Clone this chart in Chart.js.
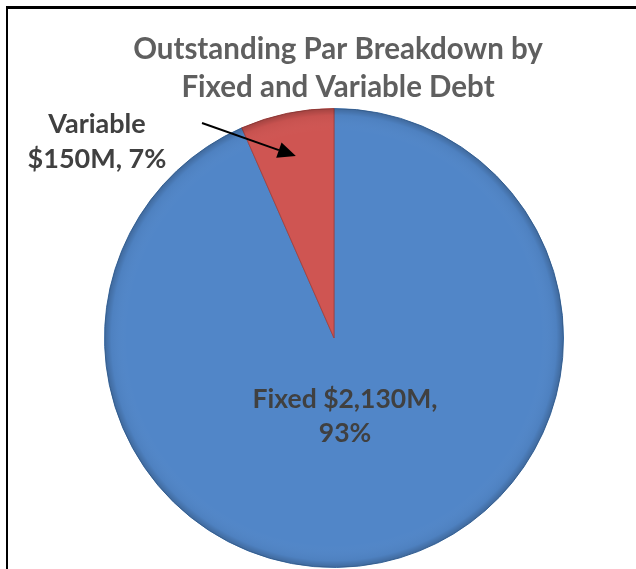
<!DOCTYPE html>
<html>
<head>
<meta charset="utf-8">
<script src="https://cdn.jsdelivr.net/npm/chart.js@4.4.1/dist/chart.umd.min.js"></script>
<style>
  html, body { margin: 0; padding: 0; background: #ffffff; }
  #wrap { position: relative; width: 636px; height: 569px; overflow: hidden; }
  canvas { display: block; }
</style>
</head>
<body>
<div id="wrap"><canvas id="c" width="636" height="569"></canvas></div>
<script>
const categories = ['Fixed', 'Variable'];
const values = [2130, 150];            // $ millions
const percents = [93, 7];
const titleLines = ['Outstanding Par Breakdown by', 'Fixed and Variable Debt'];
const colors = ['#5186C8', '#CF5552'];
const borders = ['#3E6FA8', '#A84340'];

const FONT = '"Lato", "Open Sans", sans-serif';

function fmtM(v) { return '$' + v.toLocaleString('en-US') + 'M'; }

const decor = {
  id: 'decor',
  beforeDraw(chart) {
    const ctx = chart.ctx;
    ctx.save();
    ctx.fillStyle = '#ffffff';
    ctx.fillRect(0, 0, chart.width, chart.height);
    ctx.fillStyle = '#000000';
    ctx.fillRect(6, 6, chart.width - 6, 3);
    ctx.fillRect(6, 6, 2, chart.height - 6);
    ctx.restore();
  },
  afterDatasetsDraw(chart) {
    const ctx = chart.ctx;
    const meta = chart.getDatasetMeta(0);
    const arcs = meta.data;
    const cx = arcs[0].x, cy = arcs[0].y, r = arcs[0].outerRadius;
    ctx.save();
    // bevel shade near each slice's rim
    arcs.forEach((a) => {
      ctx.save();
      ctx.beginPath();
      ctx.moveTo(cx, cy);
      ctx.arc(cx, cy, r, a.startAngle, a.endAngle);
      ctx.closePath();
      ctx.clip();
      const g = ctx.createRadialGradient(cx, cy, r * 0.9, cx, cy, r);
      g.addColorStop(0, 'rgba(255,255,255,0)');
      g.addColorStop(0.7, 'rgba(0,0,0,0.04)');
      g.addColorStop(1, 'rgba(0,0,0,0.22)');
      ctx.fillStyle = g;
      ctx.fillRect(cx - r, cy - r, 2 * r, 2 * r);
      ctx.restore();
    });
    // title
    ctx.fillStyle = '#5f5f5f';
    ctx.font = 'bold 29.5px ' + FONT;
    ctx.textAlign = 'center';
    ctx.textBaseline = 'alphabetic';
    ctx.fillText(titleLines[0], 338, 59);
    ctx.fillText(titleLines[1], 338, 97);

    // Fixed label (inside)
    ctx.fillStyle = '#404040';
    ctx.font = 'bold 26.5px ' + FONT;
    ctx.fillText(categories[0] + ' ' + fmtM(values[0]) + ',', cx + 11, cy + 70);
    ctx.fillText(percents[0] + '%', cx + 11, cy + 104);

    // Variable label (outside, left)
    ctx.font = 'bold 27px ' + FONT;
    ctx.fillText(categories[1], 97, 133);
    ctx.fillText(fmtM(values[1]) + ', ' + percents[1] + '%', 97, 168);

    // arrow to the Variable slice
    const v = arcs[1];
    const mid = (v.startAngle + v.endAngle) / 2;
    const tx = cx + Math.cos(mid) * r * 0.81;
    const ty = cy + Math.sin(mid) * r * 0.81;
    const sx = 202, sy = 123;
    const ang = Math.atan2(ty - sy, tx - sx);
    const hl = 18, hw = 8;
    const bx = tx - Math.cos(ang) * hl, by = ty - Math.sin(ang) * hl;
    ctx.strokeStyle = '#000';
    ctx.lineWidth = 2;
    ctx.beginPath();
    ctx.moveTo(sx, sy);
    ctx.lineTo(bx, by);
    ctx.stroke();
    ctx.fillStyle = '#000';
    ctx.beginPath();
    ctx.moveTo(tx, ty);
    ctx.lineTo(bx + Math.sin(ang) * hw, by - Math.cos(ang) * hw);
    ctx.lineTo(bx - Math.sin(ang) * hw, by + Math.cos(ang) * hw);
    ctx.closePath();
    ctx.fill();
    ctx.restore();
  }
};

new Chart(document.getElementById('c'), {
  type: 'pie',
  data: {
    labels: categories,
    datasets: [{
      data: values,
      backgroundColor: colors,
      borderColor: borders,
      borderWidth: 1
    }]
  },
  options: {
    responsive: false,
    animation: false,
    devicePixelRatio: 1,
    layout: { padding: { top: 108, bottom: 1, left: 104, right: 72 } },
    plugins: {
      legend: { display: false },
      tooltip: { enabled: false },
      title: { display: false }
    }
  },
  plugins: [decor]
});
</script>
</body>
</html>
